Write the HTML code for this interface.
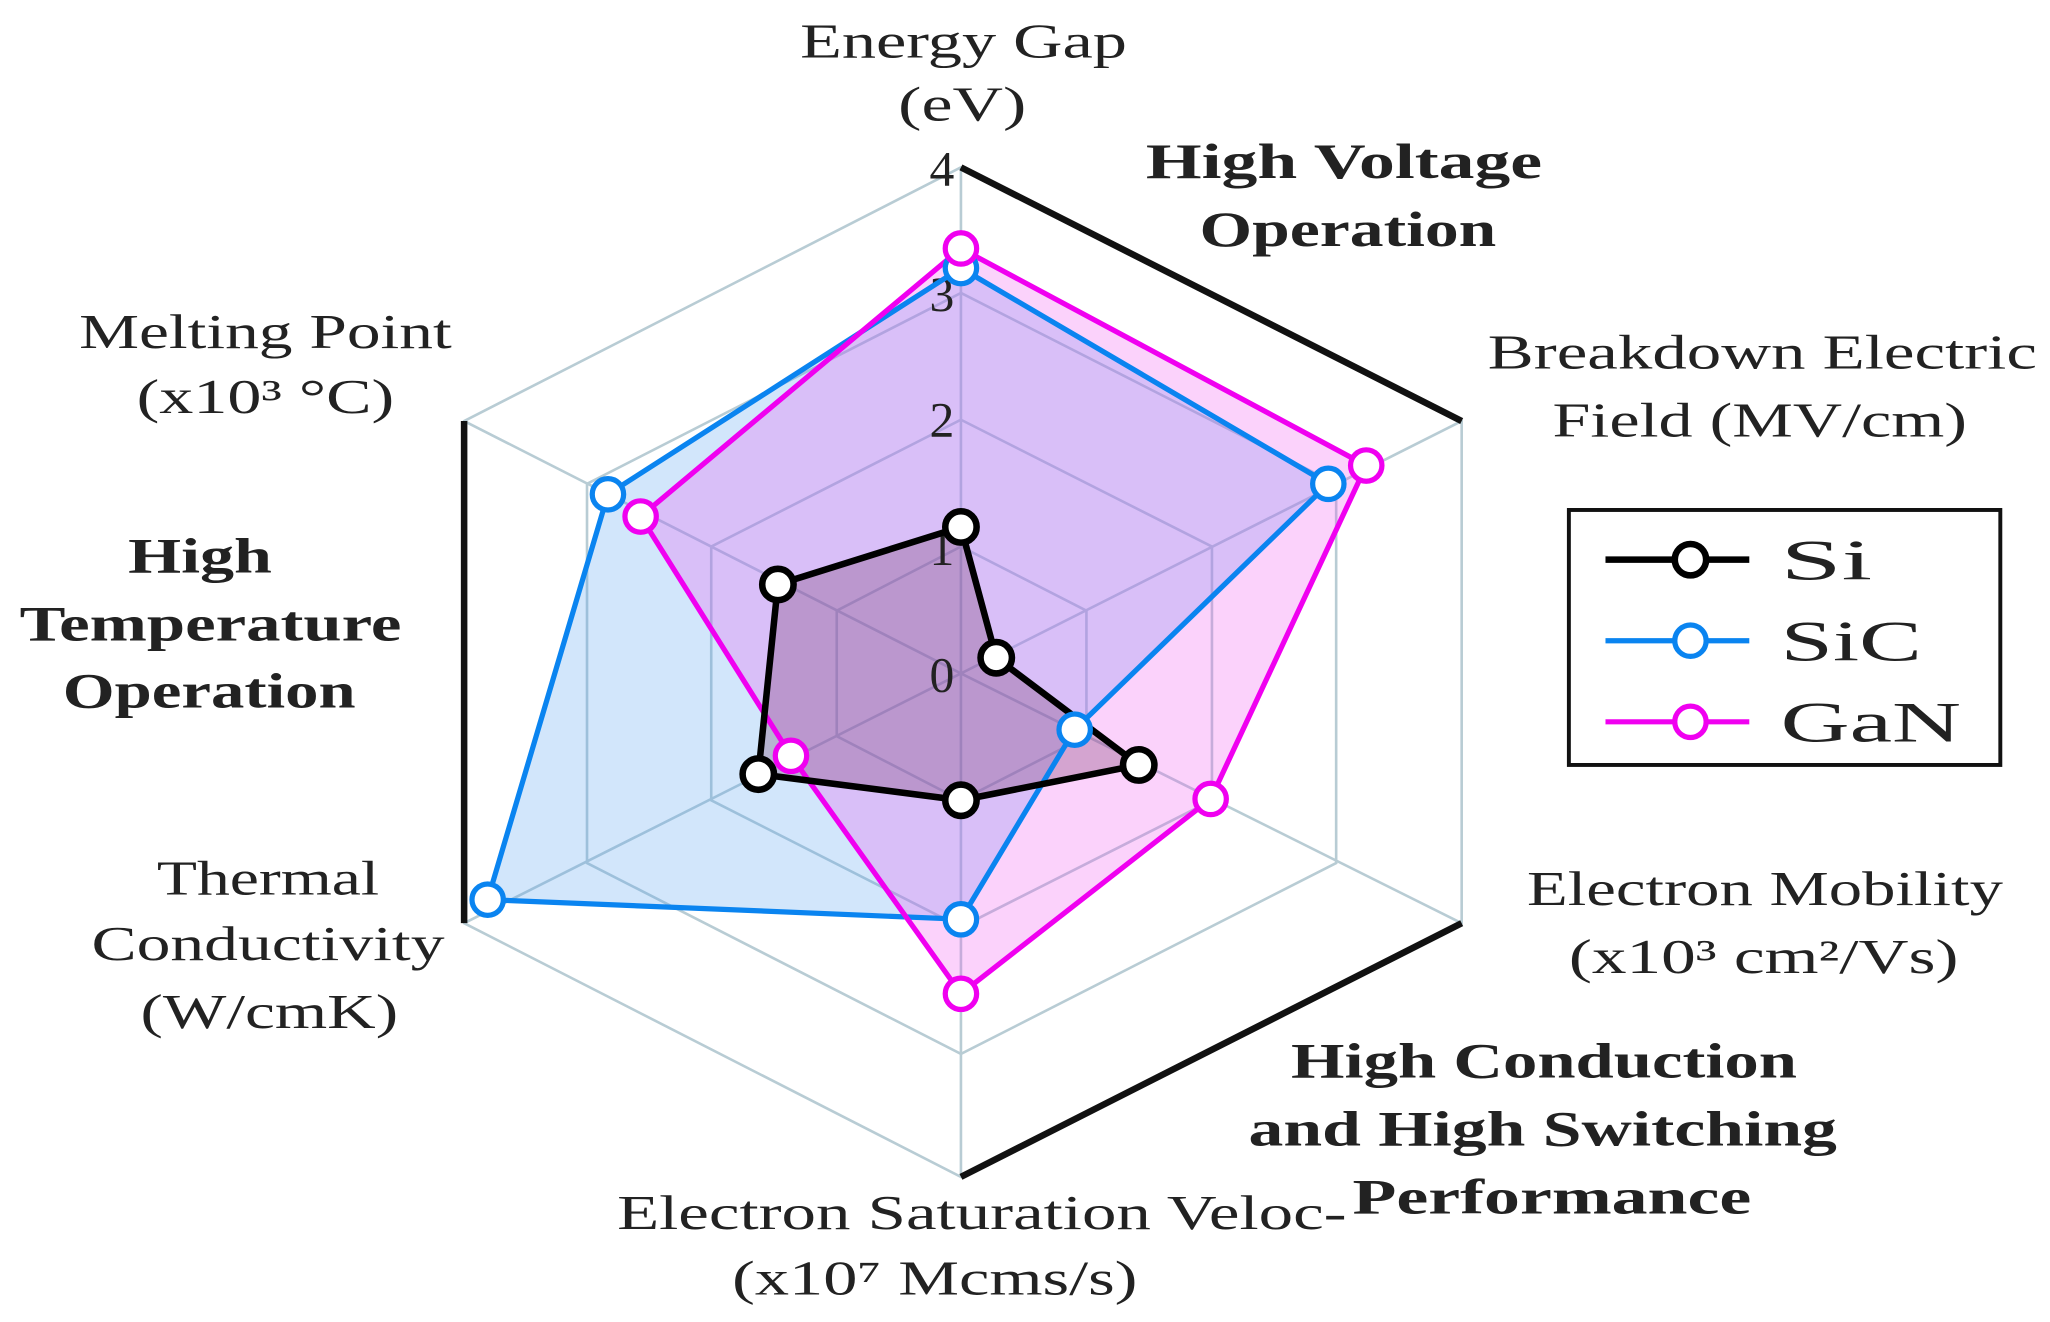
<!DOCTYPE html>
<html><head><meta charset="utf-8"><style>
html,body{margin:0;padding:0;background:#fff;}
svg{display:block;}
text{font-family:"Liberation Serif",serif;fill:#222;}
</style></head><body>
<svg width="2050" height="1322" viewBox="0 0 1568 1011" preserveAspectRatio="none" xmlns="http://www.w3.org/2000/svg">
<!-- grid -->
<g fill="none" stroke="#b8ccd4" stroke-width="2">
<polygon points="735,418 831,467 831,563 735,612 640,563 640,467"/>
<polygon points="735,321 927,418 927,612 735,709 544,612 544,418"/>
<polygon points="735,224 1022,370 1022,660 735,806 449,660 449,370"/>
<polygon points="735,128 1118,322 1118,706 735,900 355,706 355,322"/>
<line x1="735" y1="515" x2="735" y2="128"/><line x1="735" y1="515" x2="1118" y2="322"/>
<line x1="735" y1="515" x2="1118" y2="706"/><line x1="735" y1="515" x2="735" y2="900"/>
<line x1="735" y1="515" x2="355" y2="706"/><line x1="735" y1="515" x2="355" y2="322"/>
</g>
<g stroke="#111" stroke-width="5" fill="none">
<line x1="735" y1="128" x2="1118" y2="322"/>
<line x1="355" y1="322" x2="355" y2="706"/>
<line x1="1118" y1="706" x2="735" y2="900"/>
</g>
<!-- fills -->
<polygon points="735,205 1016,370 822,558 735,703 373,688 465,378" fill="#4a9cf0" fill-opacity="0.25" stroke="none"/>
<polygon points="735,190 1045,356 926,611 735,760 605,578 490,395" fill="#f050f0" fill-opacity="0.26" stroke="none"/>
<polygon points="735,403 762,503 871,585 735,612 580,592 595,447" fill="#703060" fill-opacity="0.28" stroke="none"/>
<!-- ticks -->
<g font-size="38" text-anchor="end">
<text x="730" y="142">4</text><text x="730" y="238">3</text><text x="730" y="334">2</text><text x="730" y="432">1</text><text x="730" y="529">0</text>
</g>
<!-- lines -->
<polygon points="735,205 1016,370 822,558 735,703 373,688 465,378" fill="none" stroke="#0a84f0" stroke-width="4"/>
<polygon points="735,190 1045,356 926,611 735,760 605,578 490,395" fill="none" stroke="#f000f0" stroke-width="4"/>
<polygon points="735,403 762,503 871,585 735,612 580,592 595,447" fill="none" stroke="#000" stroke-width="5"/>
<g fill="#fff" stroke="#0a84f0" stroke-width="4">
<circle cx="735" cy="205" r="12"/><circle cx="1016" cy="370" r="12"/><circle cx="822" cy="558" r="12"/><circle cx="735" cy="703" r="12"/><circle cx="373" cy="688" r="12"/><circle cx="465" cy="378" r="12"/>
</g>
<g fill="#fff" stroke="#f000f0" stroke-width="4">
<circle cx="735" cy="190" r="12"/><circle cx="1045" cy="356" r="12"/><circle cx="926" cy="611" r="12"/><circle cx="735" cy="760" r="12"/><circle cx="605" cy="578" r="12"/><circle cx="490" cy="395" r="12"/>
</g>
<g fill="#fff" stroke="#000" stroke-width="5">
<circle cx="735" cy="403" r="12"/><circle cx="762" cy="503" r="12"/><circle cx="871" cy="585" r="12"/><circle cx="735" cy="612" r="12"/><circle cx="580" cy="592" r="12"/><circle cx="595" cy="447" r="12"/>
</g>
<!-- axis labels -->
<g font-size="37" text-anchor="middle" lengthAdjust="spacingAndGlyphs">
<text x="737" y="44" textLength="250" lengthAdjust="spacingAndGlyphs">Energy Gap</text>
<text x="736" y="92" textLength="98" lengthAdjust="spacingAndGlyphs">(eV)</text>
<text x="1348" y="282" textLength="420" lengthAdjust="spacingAndGlyphs">Breakdown Electric</text>
<text x="1346" y="334" textLength="317" lengthAdjust="spacingAndGlyphs">Field (MV/cm)</text>
<text x="1350" y="692" textLength="364" lengthAdjust="spacingAndGlyphs">Electron Mobility</text>
<text x="1349" y="744" textLength="298" lengthAdjust="spacingAndGlyphs">(x10³ cm²/Vs)</text>
<text x="751" y="940" textLength="558" lengthAdjust="spacingAndGlyphs">Electron Saturation Veloc-</text>
<text x="715" y="990" textLength="310" lengthAdjust="spacingAndGlyphs">(x10⁷ Mcms/s)</text>
<text x="205" y="684" textLength="170" lengthAdjust="spacingAndGlyphs">Thermal</text>
<text x="205" y="734" textLength="270" lengthAdjust="spacingAndGlyphs">Conductivity</text>
<text x="206" y="786" textLength="197" lengthAdjust="spacingAndGlyphs">(W/cmK)</text>
<text x="203" y="266" textLength="285" lengthAdjust="spacingAndGlyphs">Melting Point</text>
<text x="203" y="316" textLength="197" lengthAdjust="spacingAndGlyphs">(x10³ °C)</text>
</g>
<g font-size="38" font-weight="bold" text-anchor="middle" fill="#111">
<text x="1028" y="136" textLength="303" lengthAdjust="spacingAndGlyphs">High Voltage</text>
<text x="1031" y="188" textLength="227" lengthAdjust="spacingAndGlyphs">Operation</text>
<text x="153" y="438" textLength="110" lengthAdjust="spacingAndGlyphs">High</text>
<text x="161" y="490" textLength="292" lengthAdjust="spacingAndGlyphs">Temperature</text>
<text x="160" y="541" textLength="224" lengthAdjust="spacingAndGlyphs">Operation</text>
<text x="1181" y="824" textLength="387" lengthAdjust="spacingAndGlyphs">High Conduction</text>
<text x="1180" y="876" textLength="450" lengthAdjust="spacingAndGlyphs">and High Switching</text>
<text x="1187" y="928" textLength="305" lengthAdjust="spacingAndGlyphs">Performance</text>
</g>
<!-- legend -->
<rect x="1200" y="390" width="330" height="195" fill="#fff" stroke="#111" stroke-width="3"/>
<line x1="1228" y1="428" x2="1338" y2="428" stroke="#000" stroke-width="5"/><circle cx="1293" cy="428" r="12" fill="#fff" stroke="#000" stroke-width="5"/>
<line x1="1228" y1="490" x2="1338" y2="490" stroke="#0a84f0" stroke-width="4"/><circle cx="1293" cy="490" r="12" fill="#fff" stroke="#0a84f0" stroke-width="4"/>
<line x1="1228" y1="552" x2="1338" y2="552" stroke="#f000f0" stroke-width="4"/><circle cx="1293" cy="552" r="12" fill="#fff" stroke="#f000f0" stroke-width="4"/>
<g font-size="44">
<text x="1362" y="443" textLength="70" lengthAdjust="spacingAndGlyphs">Si</text>
<text x="1362" y="505" textLength="108" lengthAdjust="spacingAndGlyphs">SiC</text>
<text x="1362" y="567" textLength="138" lengthAdjust="spacingAndGlyphs">GaN</text>
</g>
</svg>
</body></html>
